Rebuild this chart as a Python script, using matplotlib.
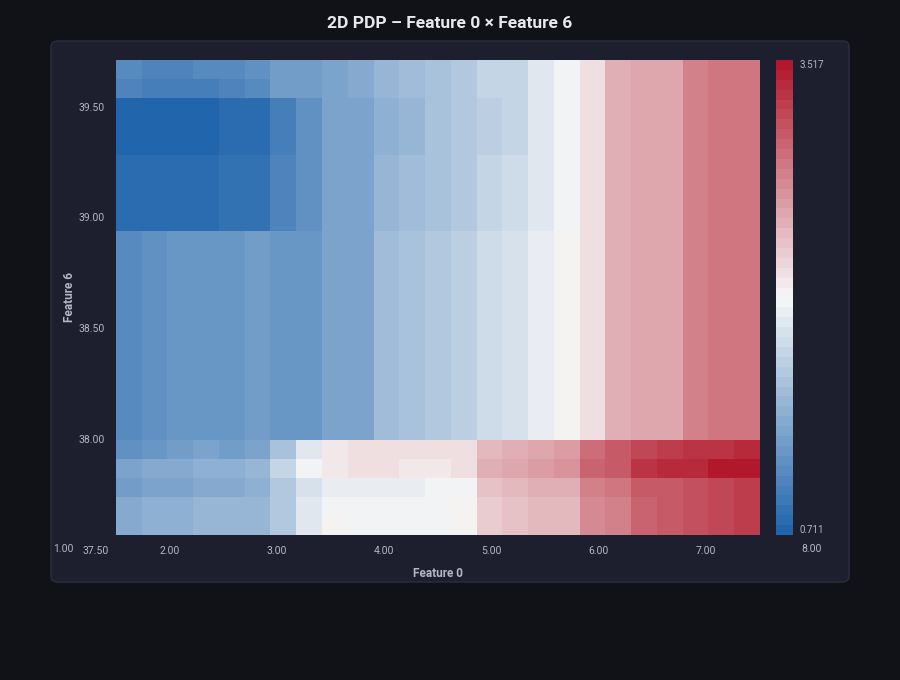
import matplotlib
matplotlib.use('Agg')
import matplotlib.pyplot as plt
import numpy as np
from matplotlib.colors import LinearSegmentedColormap
from matplotlib.patches import FancyBboxPatch

plt.rcParams['font.family'] = ['Roboto', 'DejaVu Sans']

# Grid edges of the PDP (feature values)
x_lo, x_hi = 1.495, 7.51
y_lo, y_hi = 37.565, 39.71
vmin, vmax = 0.711, 3.517

# Rows listed top to bottom, 25 columns each
top = [1.10, 1.05, 1.05, 1.08, 1.12, 1.15, 1.25, 1.27, 1.35, 1.38, 1.50, 1.55, 1.62, 1.68,
       1.78, 1.82, 1.95, 2.10, 2.28, 2.58, 2.60, 2.64, 2.86, 2.90, 2.88]
top2 = [1.05, 0.98, 0.98, 1.00, 1.03, 1.10, 1.25, 1.27, 1.35, 1.38, 1.50, 1.55, 1.62, 1.68,
        1.78, 1.82, 1.95, 2.10, 2.28, 2.58, 2.60, 2.64, 2.86, 2.90, 2.88]
dark_a = [0.75, 0.76, 0.74, 0.73, 0.78, 0.80, 1.00, 1.15, 1.30, 1.33, 1.45, 1.52, 1.60, 1.66,
          1.76, 1.80, 1.95, 2.10, 2.28, 2.58, 2.60, 2.64, 2.86, 2.90, 2.88]
dark_b = [0.80, 0.80, 0.82, 0.80, 0.85, 0.88, 1.05, 1.15, 1.30, 1.33, 1.52, 1.57, 1.64, 1.70,
          1.80, 1.85, 1.98, 2.10, 2.28, 2.58, 2.60, 2.64, 2.86, 2.90, 2.88]
mid = [1.12, 1.15, 1.18, 1.20, 1.22, 1.24, 1.22, 1.23, 1.30, 1.35, 1.55, 1.60, 1.70, 1.74,
       1.85, 1.90, 2.00, 2.12, 2.24, 2.58, 2.60, 2.64, 2.86, 2.90, 2.88]
bot0 = [1.15, 1.18, 1.25, 1.30, 1.28, 1.30, 1.60, 1.95, 2.18, 2.24, 2.26, 2.26, 2.26, 2.24,
        2.52, 2.55, 2.62, 2.65, 2.95, 3.05, 3.20, 3.25, 3.30, 3.33, 3.36]
bot1 = [1.35, 1.38, 1.40, 1.42, 1.45, 1.52, 1.80, 2.07, 2.20, 2.25, 2.25, 2.23, 2.22, 2.24,
        2.58, 2.62, 2.68, 2.70, 3.00, 3.05, 3.30, 3.35, 3.40, 3.47, 3.517]
bot2 = [1.28, 1.32, 1.35, 1.38, 1.38, 1.45, 1.65, 1.90, 2.02, 2.03, 2.03, 2.04, 2.06, 2.08,
        2.45, 2.50, 2.56, 2.58, 2.85, 2.88, 3.05, 3.10, 3.15, 3.22, 3.28]
bot3 = [1.38, 1.42, 1.45, 1.48, 1.48, 1.52, 1.70, 1.95, 2.10, 2.11, 2.10, 2.10, 2.10, 2.12,
        2.38, 2.42, 2.50, 2.52, 2.80, 2.82, 3.02, 3.05, 3.15, 3.22, 3.28]
bot4 = [1.38, 1.42, 1.45, 1.48, 1.48, 1.52, 1.70, 1.95, 2.12, 2.11, 2.10, 2.10, 2.10, 2.14,
        2.38, 2.42, 2.50, 2.52, 2.80, 2.82, 3.02, 3.05, 3.15, 3.22, 3.28]
rows = [top, top2] + [dark_a] * 3 + [dark_b] * 4 + [mid] * 11 + [bot0, bot1, bot2, bot3, bot4]
Z = np.array(rows)

x_ticks = [2, 3, 4, 5, 6, 7]

BG = '#111217'
PANEL = '#1e1f2e'
TXT = '#b4b7c2'

cmap = LinearSegmentedColormap.from_list('bwr_pdp', ['#2166ac', '#f7f7f7', '#b2182b'], N=48)

fig = plt.figure(figsize=(9, 6.8), dpi=100, facecolor=BG)
panel = FancyBboxPatch((51 / 900, 1 - 582 / 680), 798 / 900, 541 / 680,
                       boxstyle='round,pad=0,rounding_size=0.008',
                       transform=fig.transFigure, facecolor=PANEL,
                       edgecolor='#2c2e3d', lw=1, zorder=-10)
fig.patches.append(panel)
fig.text(0.5, 1 - 24 / 680, '2D PDP – Feature 0 × Feature 6', ha='center', va='center',
         color='#e8e9ee', fontsize=12.5, fontweight='bold')

ax = fig.add_axes([116 / 900, 1 - 535 / 680, 644 / 900, 475 / 680])
ax.set_facecolor(PANEL)
im = ax.imshow(Z, extent=[x_lo, x_hi, y_lo, y_hi], aspect='auto', cmap=cmap,
               vmin=vmin, vmax=vmax, interpolation='nearest')
ax.set_xlim(x_lo, x_hi)
ax.set_ylim(y_lo, y_hi)
ax.set_xticks(x_ticks)
ax.set_xticklabels([f'{v:.2f}' for v in x_ticks])
ax.set_yticks([38.0, 38.5, 39.0, 39.5])
ax.set_yticklabels(['38.00', '38.50', '39.00', '39.50'])
ax.tick_params(colors=TXT, labelsize=7.5, length=0, pad=8)
for s in ax.spines.values():
    s.set_visible(False)
ax.set_xlabel('Feature 0', color=TXT, fontsize=8.5, fontweight='bold', labelpad=8)
ax.set_ylabel('Feature 6', color=TXT, fontsize=8.5, fontweight='bold', labelpad=2)

fig.text(63 / 900, 1 - 549 / 680, '1.00', ha='center', va='center', color=TXT, fontsize=7.5)
fig.text(812 / 900, 1 - 549 / 680, '8.00', ha='center', va='center', color=TXT, fontsize=7.5)
fig.text(96 / 900, 1 - 551 / 680, '37.50', ha='center', va='center', color=TXT, fontsize=7.5)

cax = fig.add_axes([776 / 900, 1 - 535 / 680, 17 / 900, 475 / 680])
cb = fig.colorbar(im, cax=cax)
cb.outline.set_visible(False)
cb.set_ticks([vmin, vmax])
cb.set_ticklabels([f'{vmin:.3f}', f'{vmax:.3f}'])
cax.tick_params(colors=TXT, labelsize=7, length=0, pad=5)
cax.get_yticklabels()[0].set_va('bottom')
cax.get_yticklabels()[1].set_va('top')

fig.savefig('out.png', dpi=100, facecolor=BG)
